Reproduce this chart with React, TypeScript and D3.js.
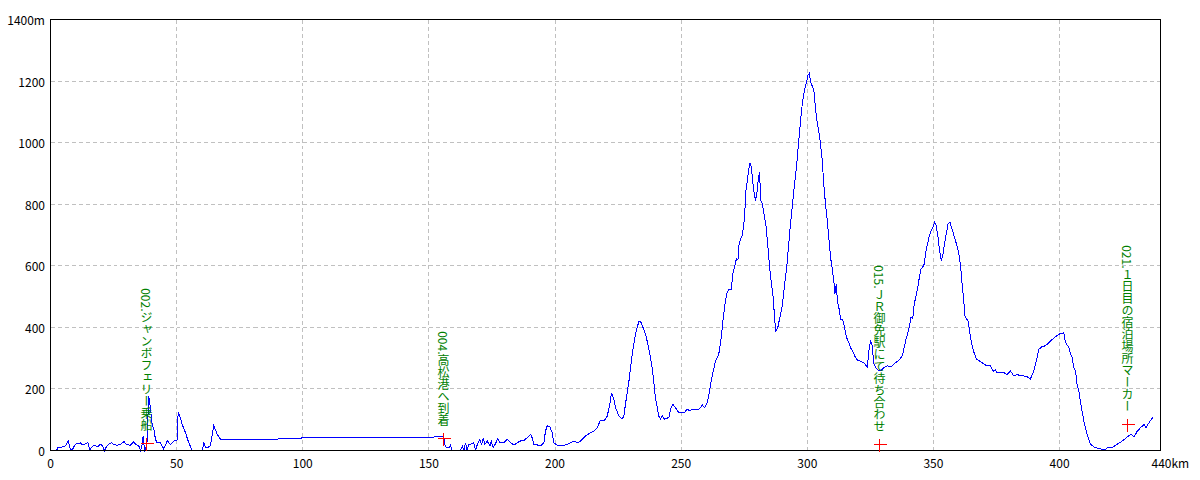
import React from "react";
import * as d3 from "d3";

// Distance (km) and elevation (m) of the route profile
const distanceKm = [
  0, 2.4, 2.9, 4.6, 6.0, 7.0, 7.5, 7.9, 8.8, 9.9, 10.8, 11.9, 12.6, 13.2, 14.8, 15.6, 16.5, 17.4, 18.8, 19.8,
  20.5, 21.4, 22.2, 23.1, 24.2, 25.1, 26.4, 27.8, 29.1, 30.1, 31.7, 33.0, 33.7, 35.0, 35.7, 36.4, 36.7, 37.3, 37.8, 38.3,
  38.9, 39.6, 40.3, 41.0, 41.6, 42.3, 43.6, 44.9, 46.3, 47.6, 48.9, 50.2, 50.6, 51.5, 52.2, 53.5, 54.8, 56.2, 60.1, 60.8,
  61.4, 62.1, 63.4, 64.7, 66.1, 67.4, 89.9, 90.5, 154.6, 155.9, 156.2, 157.0, 157.9, 158.6, 159.0, 162.5, 163.3, 163.9, 164.5, 165.2,
  165.8, 167.2, 167.8, 168.5, 169.2, 170.2, 170.9, 171.5, 172.2, 173.1, 174.2, 174.7, 175.5, 176.4, 177.3, 178.1, 179.7, 181.0, 181.7, 182.4,
  183.7, 185.0, 186.3, 187.7, 188.7, 189.6, 190.3, 190.9, 191.6, 193.0, 194.2, 195.6, 196.2, 196.9, 197.9, 198.9, 199.5, 200.9, 202.2, 204.2,
  205.5, 207.5, 208.8, 210.1, 212.1, 214.1, 215.4, 216.7, 218.0, 219.4, 220.7, 221.7, 222.4, 223.3, 224.0, 225.3, 226.6, 227.3, 227.9, 229.3,
  230.6, 231.9, 233.2, 233.9, 234.6, 235.9, 237.2, 238.5, 239.8, 241.1, 241.8, 242.5, 243.4, 245.1, 245.8, 246.7, 247.8, 248.7, 249.7, 251.1,
  252.4, 253.4, 254.4, 255.7, 257.0, 258.4, 259.3, 260.3, 261.0, 262.3, 263.6, 264.9, 265.9, 266.7, 267.2, 268.0, 268.9, 269.8, 270.5, 271.3,
  271.9, 272.5, 272.9, 273.5, 274.2, 274.8, 275.2, 275.6, 276.4, 277.2, 277.8, 278.6, 279.1, 279.5, 280.2, 280.6, 281.1, 281.5, 282.2, 282.8,
  283.7, 284.5, 285.2, 285.8, 286.5, 287.0, 287.5, 288.3, 289.1, 290.1, 291.0, 291.8, 292.4, 293.1, 293.6, 294.4, 295.1, 295.7, 296.4, 297.0,
  297.7, 298.4, 299.0, 299.7, 300.2, 300.8, 301.3, 302.1, 302.6, 303.3, 303.9, 304.6, 305.2, 305.9, 306.6, 307.2, 307.9, 308.5, 309.2, 309.8,
  310.5, 310.9, 311.5, 311.9, 312.5, 313.2, 313.9, 314.5, 315.2, 315.8, 316.5, 317.1, 317.8, 318.5, 319.1, 319.8, 321.1, 322.4, 323.8, 324.4,
  325.1, 325.7, 326.4, 327.1, 328.4, 329.1, 330.4, 331.8, 333.1, 334.4, 335.1, 336.4, 337.7, 338.4, 339.0, 339.7, 340.4, 341.1, 341.8, 342.4,
  343.1, 343.8, 344.4, 345.1, 346.2, 347.1, 347.8, 348.4, 349.1, 349.8, 350.4, 351.1, 351.8, 352.4, 353.1, 353.8, 354.4, 355.1, 355.8, 356.5,
  357.2, 357.8, 358.5, 359.2, 359.8, 360.4, 360.9, 361.4, 361.9, 362.5, 363.1, 363.6, 364.1, 364.9, 365.8, 367.1, 369.1, 371.1, 372.5, 373.8,
  374.5, 375.2, 376.5, 377.9, 379.2, 380.5, 381.8, 383.2, 385.2, 387.1, 388.4, 389.8, 391.1, 391.8, 393.1, 394.4, 395.8, 397.7, 399.7, 401.0,
  401.7, 402.3, 403.7, 404.3, 405.0, 405.6, 406.3, 406.9, 407.6, 408.2, 409.6, 410.9, 412.2, 414.2, 416.8, 418.2, 419.2, 420.8, 422.8, 424.9,
  426.8, 428.2, 429.5, 430.8, 432.1, 433.5, 434.2, 435.5, 437.1,
];

const elevationM = [
  0, 0, 9, 11, 15, 33, 15, 2, 5, 21, 22, 25, 18, 20, 25, 1, 13, 16, 13, 20,
  16, 0, 13, 20, 25, 20, 17, 20, 29, 20, 17, 29, 20, 15, 0, 20, 47, 0, 9, 31,
  177, 139, 85, 69, 36, 25, 25, 5, 31, 20, 31, 34, 123, 107, 85, 58, 25, 0, 0, 25,
  11, 9, 15, 80, 53, 36, 36, 40, 44, 44, 20, 9, 9, 18, 0, 0, 15, 0, 24, 0,
  20, 22, 25, 0, 20, 36, 20, 40, 20, 31, 15, 31, 9, 22, 40, 25, 25, 36, 31, 25,
  18, 25, 31, 33, 40, 47, 53, 42, 20, 18, 15, 25, 63, 80, 77, 58, 25, 17, 15, 18,
  22, 31, 25, 31, 47, 58, 63, 74, 98, 96, 112, 150, 188, 167, 139, 112, 102, 112, 150, 226,
  313, 378, 419, 419, 405, 378, 330, 270, 172, 112, 102, 112, 102, 107, 134, 150, 139, 126, 122, 122,
  134, 129, 134, 133, 133, 148, 139, 155, 183, 243, 291, 313, 367, 432, 465, 509, 522, 522, 574, 601,
  623, 619, 666, 688, 698, 731, 769, 839, 888, 934, 921, 856, 829, 812, 845, 888, 904, 812, 802, 769,
  725, 650, 584, 541, 497, 432, 389, 399, 432, 470, 541, 590, 650, 715, 758, 823, 877, 921, 986, 1040,
  1105, 1149, 1176, 1197, 1219, 1225, 1197, 1181, 1170, 1105, 1067, 1035, 997, 943, 856, 802, 747, 693, 628, 595,
  552, 509, 541, 487, 465, 427, 427, 411, 378, 362, 351, 335, 324, 313, 302, 294, 290, 285, 270, 324,
  357, 340, 281, 270, 259, 259, 269, 275, 272, 281, 286, 294, 308, 335, 357, 379, 400, 432, 428, 476,
  503, 530, 562, 590, 601, 650, 676, 698, 715, 725, 742, 731, 693, 650, 617, 639, 672, 704, 736, 742,
  724, 708, 688, 669, 650, 623, 584, 536, 497, 438, 427, 427, 400, 357, 324, 297, 286, 275, 275, 257,
  262, 253, 253, 253, 246, 259, 243, 246, 243, 240, 232, 259, 302, 329, 338, 340, 351, 365, 378, 380,
  382, 351, 335, 313, 302, 270, 259, 216, 194, 161, 96, 53, 20, 9, 4, 4, 11, 9, 20, 31,
  44, 53, 44, 63, 74, 85, 74, 91, 109,
];

// Way-point markers
const markerKm = [38.0, 155.4, 328.6, 426.8];
const markerElev = [25, 42, 20, 87];
const markerLabels = [
  "002.ジャンボフェリー乗船",
  "004.高松港へ到着",
  "015.ＪＲ御免駅にて待ち合わせ",
  "021.１日目の宿泊場所マーカー",
];

// Axis ticks
const xTicks = [0, 50, 100, 150, 200, 250, 300, 350, 400, 440];
const xTickLabels = ["0", "50", "100", "150", "200", "250", "300", "350", "400", "440"];
const yTicks = [0, 200, 400, 600, 800, 1000, 1200, 1400];
const yTickLabels = ["0", "200", "400", "600", "800", "1000", "1200", "1400m"];

const W = 1200;
const H = 480;
const left = 50.5;
const right = 1160.5;
const top = 19.5;
const bottom = 450.5;
const FONT = "'Noto Sans CJK JP', 'Liberation Sans', sans-serif";

export default function App() {
  const x = d3.scaleLinear().domain([0, 440]).range([left, right]);
  const y = d3.scaleLinear().domain([0, 1400]).range([bottom, top]);

  const pts: [number, number][] = distanceKm.map((d, i) => [d, elevationM[i]]);
  const line = d3
    .line<[number, number]>()
    .x((d) => x(d[0]))
    .y((d) => y(d[1]));

  const snap = (v: number) => Math.round(v - 0.5) + 0.5;

  return (
    <svg
      width={W}
      height={H}
      style={{ position: "absolute", left: 0, top: 0, background: "#fff" }}
    >
      <rect x={0} y={0} width={W} height={H} fill="#fff" />
      {/* grid */}
      <g stroke="#c0c0c0" strokeWidth={1} strokeDasharray="4,3" shapeRendering="crispEdges">
        {xTicks
          .filter((t) => t > 0 && t < 440)
          .map((t) => (
            <line key={"gx" + t} x1={snap(x(t))} x2={snap(x(t))} y1={top} y2={bottom} />
          ))}
        {yTicks
          .filter((t) => t > 0 && t < 1400)
          .map((t) => (
            <line key={"gy" + t} x1={left} x2={right} y1={snap(y(t))} y2={snap(y(t))} />
          ))}
      </g>
      {/* profile */}
      <path
        d={line(pts) || ""}
        fill="none"
        stroke="#0000ff"
        strokeWidth={1}
        shapeRendering="crispEdges"
      />
      {/* frame */}
      <rect
        x={left}
        y={top}
        width={right - left}
        height={bottom - top}
        fill="none"
        stroke="#000"
        strokeWidth={1}
        shapeRendering="crispEdges"
      />
      {/* markers */}
      {markerKm.map((k, i) => {
        const cx = Math.round(x(k)) + 0.5;
        const cy = Math.round(y(markerElev[i])) + 0.5;
        return (
          <g key={"m" + i}>
            <g stroke="#ff0000" strokeWidth={1} shapeRendering="crispEdges">
              <line x1={cx - 6} x2={cx + 7} y1={cy} y2={cy} />
              <line x1={cx} x2={cx} y1={cy - 6} y2={cy + 7} />
            </g>
            <text
              x={cx}
              y={cy - 12}
              fill="#008000"
              fontSize={12}
              fontFamily={FONT}
              textAnchor="end"
              style={{ writingMode: "vertical-rl" as any }}
            >
              {markerLabels[i]}
            </text>
          </g>
        );
      })}
      {/* y axis labels */}
      {yTicks.map((t, i) => (
        <text
          key={"yl" + t}
          x={45}
          y={y(t)}
          fontSize={12}
          fontFamily={FONT}
          textAnchor="end"
          dominantBaseline="central"
          fill="#000"
        >
          {yTickLabels[i]}
        </text>
      ))}
      {/* x axis labels */}
      {xTicks.map((t, i) =>
        t === 440 ? (
          <text
            key={"xl" + t}
            x={x(t) - 9}
            y={462}
            fontSize={12}
            fontFamily={FONT}
            textAnchor="start"
            dominantBaseline="central"
            fill="#000"
          >
            {xTickLabels[i] + "km"}
          </text>
        ) : (
          <text
            key={"xl" + t}
            x={x(t)}
            y={462}
            fontSize={12}
            fontFamily={FONT}
            textAnchor="middle"
            dominantBaseline="central"
            fill="#000"
          >
            {xTickLabels[i]}
          </text>
        )
      )}
    </svg>
  );
}
